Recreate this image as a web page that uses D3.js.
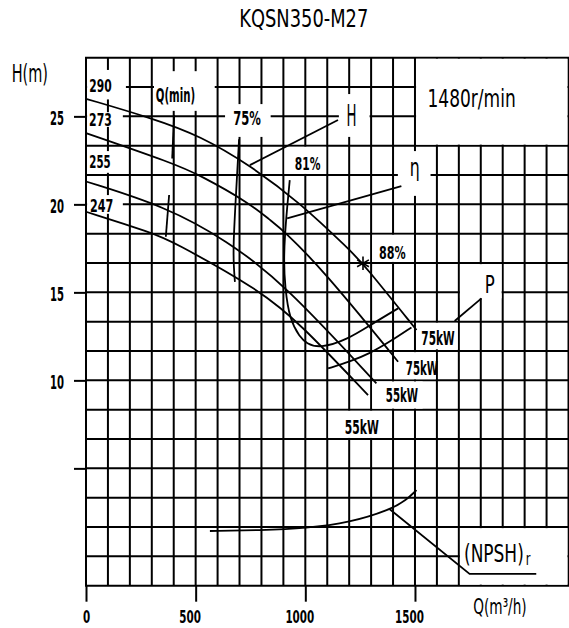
<!DOCTYPE html>
<meta charset="utf-8">
<style>
body { margin: 0; background: #fff; }
svg { display: block; background: #fff; }
.grid line { stroke: #000; stroke-width: 2px; }
.curve { fill: none; stroke: #000; stroke-width: 1.8px; }
.axis line { stroke: #000; stroke-width: 2px; }
.axis path { display: none; }
text { font-family: "DejaVu Sans", sans-serif; fill: #000; }
.small { font-weight: bold; }
</style>
<svg width="569" height="628"></svg>
<script src="https://d3js.org/d3.v7.min.js"></script>
<script>
// KQSN350-M27 performance chart, 1480 r/min
var svg = d3.select("svg");

// axis ticks
var flowTicks = [0, 500, 1000, 1500];
var headTicks = [5, 10, 15, 20, 25];

// head curves Q (m3/h) -> H (m), one per impeller diameter
var diameters = ["290", "273", "255", "247"];
var head290 = [[0, 26.0], [300, 24.9], [520, 23.9], [750, 22.2], [975, 20.1], [1203, 17.4], [1263, 16.65], [1507, 12.86]];
var head273 = [[0, 24.05], [398, 22.33], [520, 21.66], [747, 20.06], [838, 19.11], [899, 18.54], [1081, 16.27], [1423, 11.06]];
var head255 = [[0, 21.3], [367, 19.86], [641, 17.95], [899, 15.55], [1324, 9.83]];
var head247 = [[0, 19.58], [307, 18.35], [383, 17.97], [793, 15.13], [975, 13.24], [1286, 9.16]];

// iso efficiency lines
var eff75 = [[698, 23.7], [684, 20.6], [671, 17.6], [674, 16.4], [679, 15.6]];
var eff81 = [[929, 21.38], [916, 19.68], [907, 18.26], [902, 16.84], [907, 15.3], [929, 13.43], [975, 12.46],
             [1005, 12.1], [1066, 11.82], [1188, 12.29], [1309, 13.24], [1423, 14.09]];
var eff75low = [[1104, 10.68], [1203, 11.06], [1294, 11.53], [1385, 12.19], [1484, 13.01]];
var bestPoint = [1263, 16.65];

// minimum flow marks
var qmin1 = [[402, 25.07], [393, 22.61]];
var qmin2 = [[379, 20.53], [364, 18.16]];

// NPSHr (m)
var npsh = [[565, 3.73], [793, 3.78], [1005, 3.91], [1203, 4.3], [1385, 5.16], [1461, 5.84], [1507, 6.52]];

// motor power labels
var powers = ["75kW", "75kW", "55kW", "55kW"];

var x = d3.scaleLinear().domain([0, 2200]).range([86, 568.5]);
var y = d3.scaleLinear().domain([-5 / 3, 85 / 3]).range([585.7, 57.7]);
var yN = d3.scaleLinear().domain([0, 12]).range([585.7, 409.7]);

// grid
var grid = svg.append("g").attr("class", "grid");
grid.selectAll(".v").data(d3.range(0, 2201, 100)).enter().append("line")
    .attr("x1", d => x(d)).attr("x2", d => x(d))
    .attr("y1", y.range()[0]).attr("y2", y.range()[1]);
grid.selectAll(".h").data(d3.range(0, 19).map(i => -5 / 3 + i * 5 / 3)).enter().append("line")
    .attr("x1", x.range()[0] - 1).attr("x2", x.range()[1] + 1)
    .attr("y1", d => y(d)).attr("y2", d => y(d));

// white label boxes [q0, q1, h0, h1]
var boxes = [
  [1500, 2200, 70 / 3, 85 / 3], [1700, 2200, -5 / 3, 5 / 3],
  [0, 187, 25.9, 27.7], [0, 173, 24.34, 25.3], [0, 128, 21.73, 23.09], [0, 173, 19.4, 20.59],
  [305, 592, 25.25, 27.63], [629, 847, 23.77, 25.76], [1148, 1298, 23.77, 26.33], [1417, 1576, 20.42, 23.09],
  [900, 1100, 65 / 3, 70 / 3], [1300, 1500, 50 / 3, 55 / 3], [1700, 1900, 14.6, 50 / 3],
  [1500, 1700, 11.7, 40 / 3], [1400, 1600, 10, 35 / 3], [1300, 1540, 25 / 3, 10], [1100, 1400, 20 / 3, 25 / 3]
];
svg.append("g").selectAll("rect").data(boxes).enter().append("rect")
    .attr("x", d => x(d[0]) + 1.1).attr("y", d => y(d[3]) + 1.1)
    .attr("width", d => x(d[1]) - x(d[0]) - 2.2).attr("height", d => y(d[2]) - y(d[3]) - 2.2)
    .attr("fill", "#fff");

// axes
var yAxis = d3.axisLeft(y).tickValues(headTicks).tickSize(12).tickPadding(10)
    .tickFormat(d => d === 5 ? "" : String(d));
svg.append("g").attr("class", "axis").attr("transform", "translate(86,0)").call(yAxis)
  .selectAll("text")
    .attr("class", "small")
    .attr("font-size", 19).attr("font-family", null).attr("dy", "0.45em")
    .attr("textLength", d => String(d).length * 7).attr("lengthAdjust", "spacingAndGlyphs");

var xAxis = d3.axisBottom(x).tickValues(flowTicks).tickSize(16).tickPadding(8.3)
    .tickFormat(d => String(d));
svg.append("g").attr("class", "axis").attr("transform", "translate(0,585.7)").call(xAxis)
  .selectAll("text")
    .attr("class", "small")
    .attr("font-size", 18).attr("font-family", null)
    .attr("dx", d => d === 0 ? 0 : -6)
    .attr("textLength", d => String(d).length * 7.2).attr("lengthAdjust", "spacingAndGlyphs");

// curves
var line = d3.line().x(d => x(d[0])).y(d => y(d[1])).curve(d3.curveBasis);
var straight = d3.line().x(d => x(d[0])).y(d => y(d[1]));
var lineN = d3.line().x(d => x(d[0])).y(d => yN(d[1])).curve(d3.curveBasis);

svg.append("g").selectAll("path").data([head290, head273, head255, head247, eff75, eff81, eff75low])
  .enter().append("path").attr("class", "curve").attr("d", line);
svg.append("g").selectAll("path").data([qmin1, qmin2])
  .enter().append("path").attr("class", "curve").attr("d", straight);
svg.append("path").attr("class", "curve").attr("d", lineN(npsh));

svg.append("path")
    .attr("transform", "translate(" + x(bestPoint[0]) + "," + y(bestPoint[1]) + ")")
    .attr("d", d3.symbol(d3.symbolAsterisk, 130)())
    .attr("fill", "none").attr("stroke", "#000").attr("stroke-width", 1.6);

// leader lines
var leaders = [
  [[1149, 24.79], [747, 22.23]],
  [[1438, 21.04], [917, 19.2]],
  [[1803, 14.66], [1681, 13.37]]
];
svg.append("g").selectAll("path").data(leaders)
  .enter().append("path").attr("class", "curve").attr("d", straight);
svg.append("path").attr("class", "curve")
    .attr("d", d3.line().x(d => x(d[0])).y(d => yN(d[1]))([[1385, 5.21], [1749, 0.8], [2053, 0.8]]));

// labels in chart units
var labels = [
  {t: diameters[0], q: 15, h: 26.4, w: 22.4, s: 18},
  {t: diameters[1], q: 14, h: 24.45, w: 22.7, s: 18},
  {t: diameters[2], q: 15, h: 22.05, w: 21.4, s: 18},
  {t: diameters[3], q: 18, h: 19.58, w: 23.3, s: 18},
  {t: "Q(min)", q: 318, h: 25.82, w: 39.3, s: 19},
  {t: "75%", q: 671, h: 24.51, w: 27.7, s: 19},
  {t: "H", q: 1188, h: 24.45, w: 10, s: 31},
  {t: "η", q: 1476, h: 21.64, w: 10, s: 25},
  {t: "81%", q: 952, h: 21.95, w: 25.7, s: 18},
  {t: "88%", q: 1336, h: 16.88, w: 26.7, s: 18},
  {t: "P", q: 1818, h: 14.95, w: 10, s: 25},
  {t: powers[0], q: 1529, h: 12.01, w: 33.3, s: 20},
  {t: powers[1], q: 1458, h: 10.3, w: 32.3, s: 20},
  {t: powers[2], q: 1367, h: 8.75, w: 32.3, s: 20},
  {t: powers[3], q: 1180, h: 6.95, w: 34, s: 20},
  {t: "1480r/min", q: 1557, h: 25.51, w: 88.3, s: 25}
];
svg.append("g").selectAll("text").data(labels).enter().append("text")
    .attr("class", d => d.s <= 20 ? "small" : null)
    .attr("x", d => x(d.q)).attr("y", d => y(d.h))
    .attr("font-size", d => d.s)
    .attr("textLength", d => d.w).attr("lengthAdjust", "spacingAndGlyphs")
    .text(d => d.t);

// titles
svg.append("text").attr("x", 239.3).attr("y", 26.7).attr("font-size", 25)
    .attr("textLength", 129).attr("lengthAdjust", "spacingAndGlyphs").text("KQSN350-M27");
svg.append("text").attr("x", 11.7).attr("y", 81.7).attr("font-size", 25)
    .attr("textLength", 36.3).attr("lengthAdjust", "spacingAndGlyphs").text("H(m)");
svg.append("text").attr("x", 473.3).attr("y", 614).attr("font-size", 22)
    .attr("textLength", 53.4).attr("lengthAdjust", "spacingAndGlyphs").text("Q(m³/h)");

// (NPSH)r, squeezed horizontally like the drawing font
var npshLabel = svg.append("text")
    .attr("transform", "translate(464,561.7) scale(0.68,1)")
    .attr("font-size", 25);
npshLabel.append("tspan").text("(NPSH)");
npshLabel.append("tspan").attr("dx", 3).attr("dy", 3.3).attr("font-size", 17).text("r");
</script>
